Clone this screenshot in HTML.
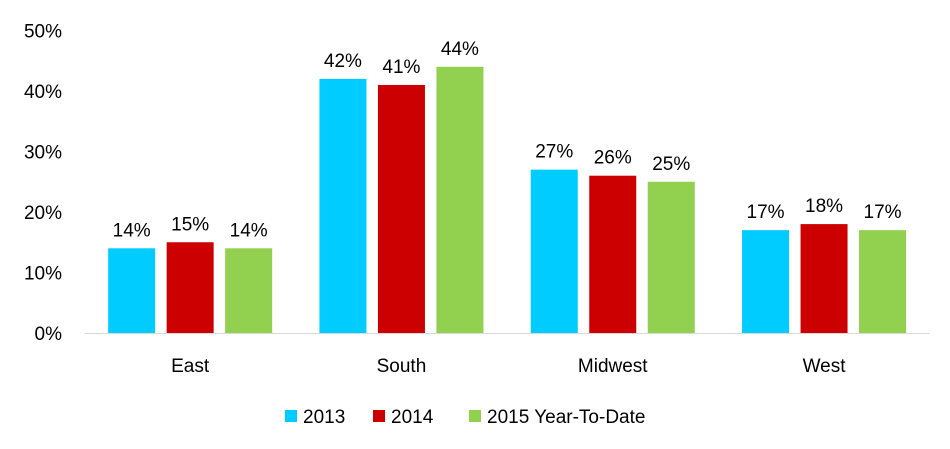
<!DOCTYPE html>
<html><head><meta charset="utf-8">
<style>
body{margin:0;background:#fff;}
svg text{font-family:"Liberation Sans",sans-serif;fill:#000;}
</style></head>
<body>
<svg id="chart" width="950" height="444" viewBox="0 0 950 444" xmlns="http://www.w3.org/2000/svg">
<g id="yaxis"></g>
<g id="bars"></g>
<g id="xaxis"></g>
<g id="legend"></g>
</svg>
<script>
const categories = ["East","South","Midwest","West"];
const seriesNames = ["2013","2014","2015 Year-To-Date"];
const s2013 = [14,42,27,17];
const s2014 = [15,41,26,18];
const s2015 = [14,44,25,17];
const yTicks = [0,10,20,30,40,50];
const colors = ["#00CCFF","#CC0000","#92D050"];
const series=[s2013,s2014,s2015];
const NS="http://www.w3.org/2000/svg";
const y0=333, pxPer=6.05, left=84.5, catW=211.3, barW=47, gap=11.5;
const y=v=>y0-v*pxPer;
const xc=i=>left+catW*(i+0.5);
function mk(tag,attrs,parent){const e=document.createElementNS(NS,tag);for(const k in attrs)e.setAttribute(k,attrs[k]);parent.appendChild(e);return e;}
const ya=document.getElementById('yaxis'),bg=document.getElementById('bars'),xa=document.getElementById('xaxis'),lg=document.getElementById('legend');
yTicks.forEach(t=>{const e=mk('text',{x:62,y:y(t)+7,'text-anchor':'end','font-size':19},ya);e.textContent=t+'%';

});
const base=mk('line',{x1:left,x2:left+catW*4,y1:y0+0.5,y2:y0+0.5,stroke:'#d9d9d9','stroke-width':1},xa);


categories.forEach((c,i)=>{
  series.forEach((s,j)=>{
    const x=xc(i)+(j-1)*(barW+gap)-barW/2;
    const r=mk('rect',{x:x,y:y(s[i]),width:barW,height:s[i]*pxPer,fill:colors[j]},bg);
    
    
    const t=mk('text',{x:x+barW/2,y:y(s[i])-12,'text-anchor':'middle','font-size':19},bg);
    t.textContent=s[i]+'%';
    
    
  });
  const l=mk('text',{x:xc(i),y:372,'text-anchor':'middle','font-size':19},xa);
  l.textContent=c;
  
  
});
const lx=[285,373,469];
seriesNames.forEach((n,j)=>{
  const g=mk('g',{},lg);
  
  
  mk('rect',{x:lx[j],y:410,width:12,height:12,fill:colors[j]},g);
  const t=mk('text',{x:lx[j]+18,y:423,'font-size':19},g);t.textContent=n;
});
</script>
</body></html>
